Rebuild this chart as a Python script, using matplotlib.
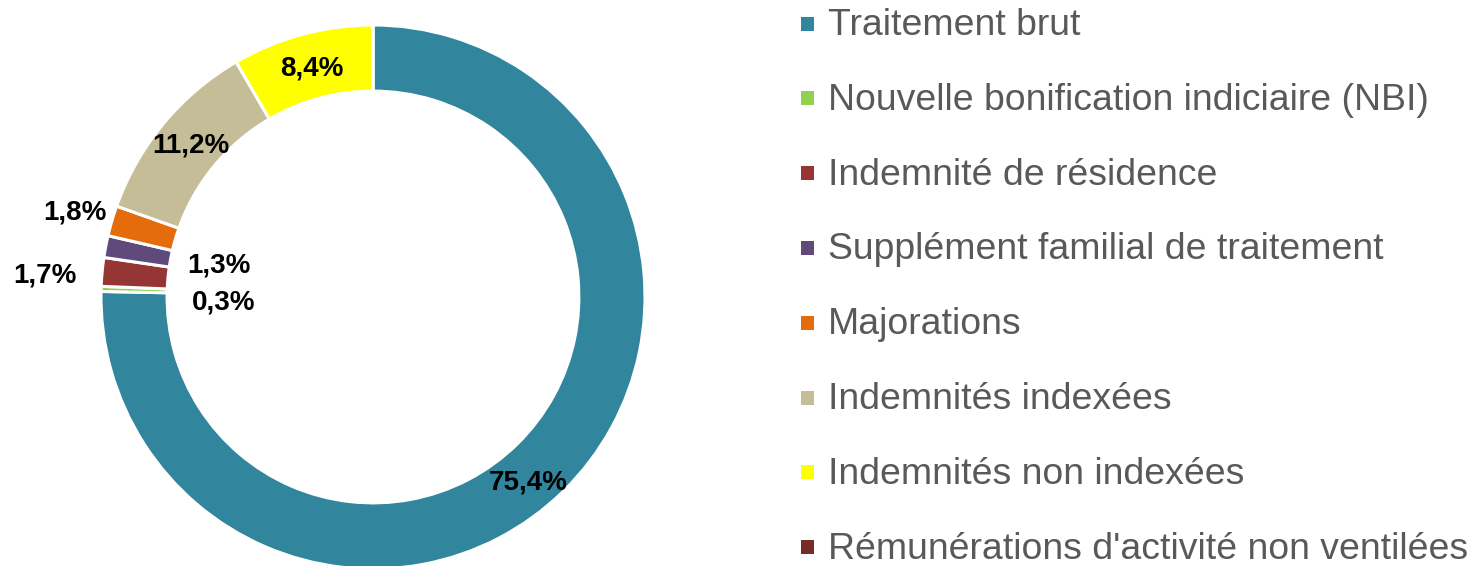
import numpy as np
import matplotlib
matplotlib.use("Agg")
import matplotlib.pyplot as plt
from matplotlib.patches import Rectangle

categories = ["Traitement brut",
              "Nouvelle bonification indiciaire (NBI)",
              "Indemnité de résidence",
              "Supplément familial de traitement",
              "Majorations",
              "Indemnités indexées",
              "Indemnités non indexées",
              "Rémunérations d'activité non ventilées"]
values = [75.4, 0.3, 1.7, 1.3, 1.8, 11.2, 8.4, 0.0]
labels = ["75,4%", "0,3%", "1,7%", "1,3%", "1,8%", "11,2%", "8,4%", ""]
colors = ["#31859C", "#92D050", "#963634", "#604A7B", "#E46C0A",
          "#C4BD97", "#FFFF00", "#772C2A"]
# label radial positions (fraction of outer radius) and angle offsets (deg)
label_r = [0.89, 0.55, 1.21, 0.58, 1.14, 0.87, 0.87, 0.0]
label_dang = [-4.5, 4, 1.5, -1, 0.5, 0, 0, 0]

W, H = 1477, 566
fig = plt.figure(figsize=(W / 100, H / 100), dpi=100)
plt.rcParams['font.family'] = ['Liberation Sans', 'DejaVu Sans']

cx, cy, R = 373, 297, 272
ax = fig.add_axes([(cx - R) / W, (H - cy - R) / H, 2 * R / W, 2 * R / H])
wedges, _ = ax.pie(values, colors=colors, startangle=90, counterclock=False,
                   radius=1.0,
                   wedgeprops=dict(width=0.243, edgecolor="white", linewidth=2.2))
ax.set_xlim(-1, 1)
ax.set_ylim(-1, 1)
ax.set_aspect('auto')
ax.axis('off')

for w, lab, r, da in zip(wedges, labels, label_r, label_dang):
    if not lab:
        continue
    ang = np.deg2rad((w.theta1 + w.theta2) / 2 + da)
    ax.text(r * np.cos(ang), r * np.sin(ang), lab, ha='center', va='center',
            fontsize=20, fontweight='bold', color='black')

# legend
y0, dy = 23.5, 74.8
for i, (cat, col) in enumerate(zip(categories, colors)):
    yc = y0 + i * dy
    fig.patches.append(Rectangle((801 / W, (H - yc - 7) / H), 13 / W, 14 / H,
                                 transform=fig.transFigure, facecolor=col,
                                 edgecolor='none'))
    fig.text(828 / W, (H - yc - 2) / H, cat, ha='left', va='center',
             fontsize=26.9, color='#595959')

fig.savefig("out.png", dpi=100)
